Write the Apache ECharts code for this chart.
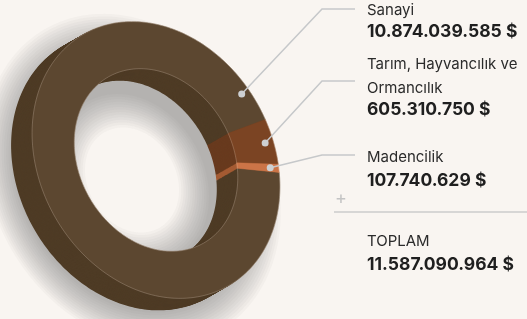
<!DOCTYPE html>
<html>
<head>
<meta charset="utf-8">
<script src="https://cdn.jsdelivr.net/npm/echarts@6/dist/echarts.min.js"></script>
<style>
html, body { margin: 0; padding: 0; background: #f9f5f1; }
#chart { width: 527px; height: 319px; }
</style>
</head>
<body>
<div id="chart"></div>
<script>
// sektörler ve ihracat değerleri ($)
var sectors = ['Sanayi', 'Tarım, Hayvancılık ve\nOrmancılık', 'Madencilik'];
var values = [10874039585, 605310750, 107740629];
var totalName = 'TOPLAM';

var faceColors = ['#5c4730', '#7b4423', '#cb7447'];
var wallColors = ['#4e3b25', '#683a1e', '#a45b33'];

// halka geometrisi (eğik elips + derinlik)
var C = [156, 160];
var U = [123, 10];
var V = [15, 138];
var W = [-21, 12];
var innerR = 0.66;
var startDeg = 1;
var layers = 26;

// gölge: kaydırma, yarıçaplar, yumuşak kenar
var shadowOff = [-24, 20];
var shadowOuter = 1.08, shadowInner = 0.5, shadowRamp = 0.13, shadowSteps = 14;

function fmt(n) {
    return String(n).replace(/\B(?=(\d{3})+(?!\d))/g, '.') + ' $';
}
var total = values.reduce(function (a, b) { return a + b; }, 0);

// dilim açıları
var angles = [];
var cum = 0;
values.forEach(function (v) {
    var a0 = startDeg * Math.PI / 180 + 2 * Math.PI * cum / total;
    cum += v;
    var a1 = startDeg * Math.PI / 180 + 2 * Math.PI * cum / total;
    angles.push([a0, a1]);
});

function projAt(t, r, ox, oy) {
    var c = Math.cos(t), s = Math.sin(t);
    return [C[0] + r * (c * U[0] + s * V[0]) + ox,
            C[1] + r * (c * U[1] + s * V[1]) + oy];
}
function proj(t, r, z) {
    return projAt(t, r, z * W[0], z * W[1]);
}
function ringAt(a0, a1, ro, ri, ox, oy) {
    var pts = [];
    var n = Math.max(2, Math.ceil((a1 - a0) / 0.02));
    for (var i = 0; i <= n; i++) pts.push(projAt(a0 + (a1 - a0) * i / n, ro, ox, oy));
    for (var j = n; j >= 0; j--) pts.push(projAt(a0 + (a1 - a0) * j / n, ri, ox, oy));
    return pts;
}
function ringPoly(a0, a1, z) {
    return ringAt(a0, a1, 1, innerR, z * W[0], z * W[1]);
}
function ellipse(r, z) {
    var pts = [];
    for (var i = 0; i <= 200; i++) pts.push(proj(2 * Math.PI * i / 200, r, z));
    return pts;
}

// duvar katmanları: arkadan öne
var wallData = [];
for (var k = 0; k < layers; k++) {
    for (var i = 0; i < values.length; i++) wallData.push([i, 1 - k / layers]);
}
var shadowData = [];
for (var s = 0; s < shadowSteps; s++) shadowData.push([s]);

// etiket yerleşimi
var labelX = 367;
var nameY = [10, 64, 157];
var valueY = [32, 110, 181];
var elbowY = [9, 81, 155];
var anchorFrac = [0.959, 0.5, 0.5];

var chart = echarts.init(document.getElementById('chart'));
chart.setOption({
    backgroundColor: '#f9f5f1',
    animation: false,
    series: [
        {
            // gölge (üst üste yarı saydam halkalar)
            type: 'custom',
            coordinateSystem: 'none',
            silent: true,
            data: shadowData,
            renderItem: function (params, api) {
                var f = 1 - 2 * (api.value(0) + 0.5) / shadowSteps;
                return {
                    type: 'polygon',
                    shape: {
                        points: ringAt(0, 2 * Math.PI,
                            shadowOuter + shadowRamp * f,
                            shadowInner - shadowRamp * f,
                            shadowOff[0], shadowOff[1])
                    },
                    style: { fill: 'rgba(105,100,97,0.04)' }
                };
            }
        },
        {
            type: 'custom',
            coordinateSystem: 'none',
            silent: true,
            data: wallData,
            renderItem: function (params, api) {
                var i = api.value(0), z = api.value(1);
                return {
                    type: 'polygon',
                    shape: { points: ringPoly(angles[i][0], angles[i][1], z) },
                    style: { fill: wallColors[i] }
                };
            }
        },
        {
            type: 'custom',
            coordinateSystem: 'none',
            silent: true,
            data: values.map(function (v, i) { return [i, v]; }),
            renderItem: function (params, api) {
                var i = api.value(0);
                return {
                    type: 'polygon',
                    shape: { points: ringPoly(angles[i][0], angles[i][1], 0) },
                    style: { fill: faceColors[i], stroke: faceColors[i], lineWidth: 0.5 }
                };
            }
        },
        {
            // ön yüz kenarları
            type: 'custom',
            coordinateSystem: 'none',
            silent: true,
            data: [0],
            renderItem: function () {
                return {
                    type: 'group',
                    children: [
                        { type: 'polyline', shape: { points: ellipse(1, 0) }, style: { stroke: 'rgba(255,240,225,0.35)', lineWidth: 0.6, fill: null } },
                        { type: 'polyline', shape: { points: ellipse(innerR, 0) }, style: { stroke: 'rgba(255,240,225,0.35)', lineWidth: 0.6, fill: null } }
                    ]
                };
            }
        },
        {
            // bağlantı çizgileri ve etiketler
            type: 'custom',
            coordinateSystem: 'none',
            silent: true,
            data: values.map(function (v, i) { return [i, v]; }),
            renderItem: function (params, api) {
                var i = api.value(0);
                var a = angles[i][0] + (angles[i][1] - angles[i][0]) * anchorFrac[i];
                var p = proj(a, 0.93, 0);
                var elbowX = 322;
                var pts = [p, [elbowX, elbowY[i]], [355, elbowY[i]]];
                return {
                    type: 'group',
                    children: [
                        { type: 'polyline', shape: { points: pts }, style: { stroke: '#c6c8ca', lineWidth: 1.5, fill: null } },
                        { type: 'circle', shape: { cx: p[0], cy: p[1], r: 3.5 }, style: { fill: '#cdd0d2' } },
                        {
                            type: 'text', x: labelX, y: nameY[i] - 12,
                            style: { text: sectors[i], fill: '#2b2b2b', font: '15px Inter', lineHeight: 24, verticalAlign: 'top' }
                        },
                        {
                            type: 'text', x: labelX, y: valueY[i],
                            style: { text: fmt(api.value(1)), fill: '#1f1f1f', font: 'bold 17.5px Inter', verticalAlign: 'middle' }
                        }
                    ]
                };
            }
        }
    ],
    graphic: [
        { type: 'text', x: 335, y: 199, style: { text: '+', fill: '#c4c4c4', font: '18px Inter', verticalAlign: 'middle' } },
        { type: 'line', shape: { x1: 334, y1: 212, x2: 527, y2: 212 }, style: { stroke: '#cbcbcb', lineWidth: 1.5 } },
        { type: 'text', x: labelX, y: 241, style: { text: totalName, fill: '#2b2b2b', font: '15px Inter', verticalAlign: 'middle' } },
        { type: 'text', x: labelX, y: 265, style: { text: fmt(total), fill: '#1f1f1f', font: 'bold 17.5px Inter', verticalAlign: 'middle' } }
    ]
});
</script>
</body>
</html>
